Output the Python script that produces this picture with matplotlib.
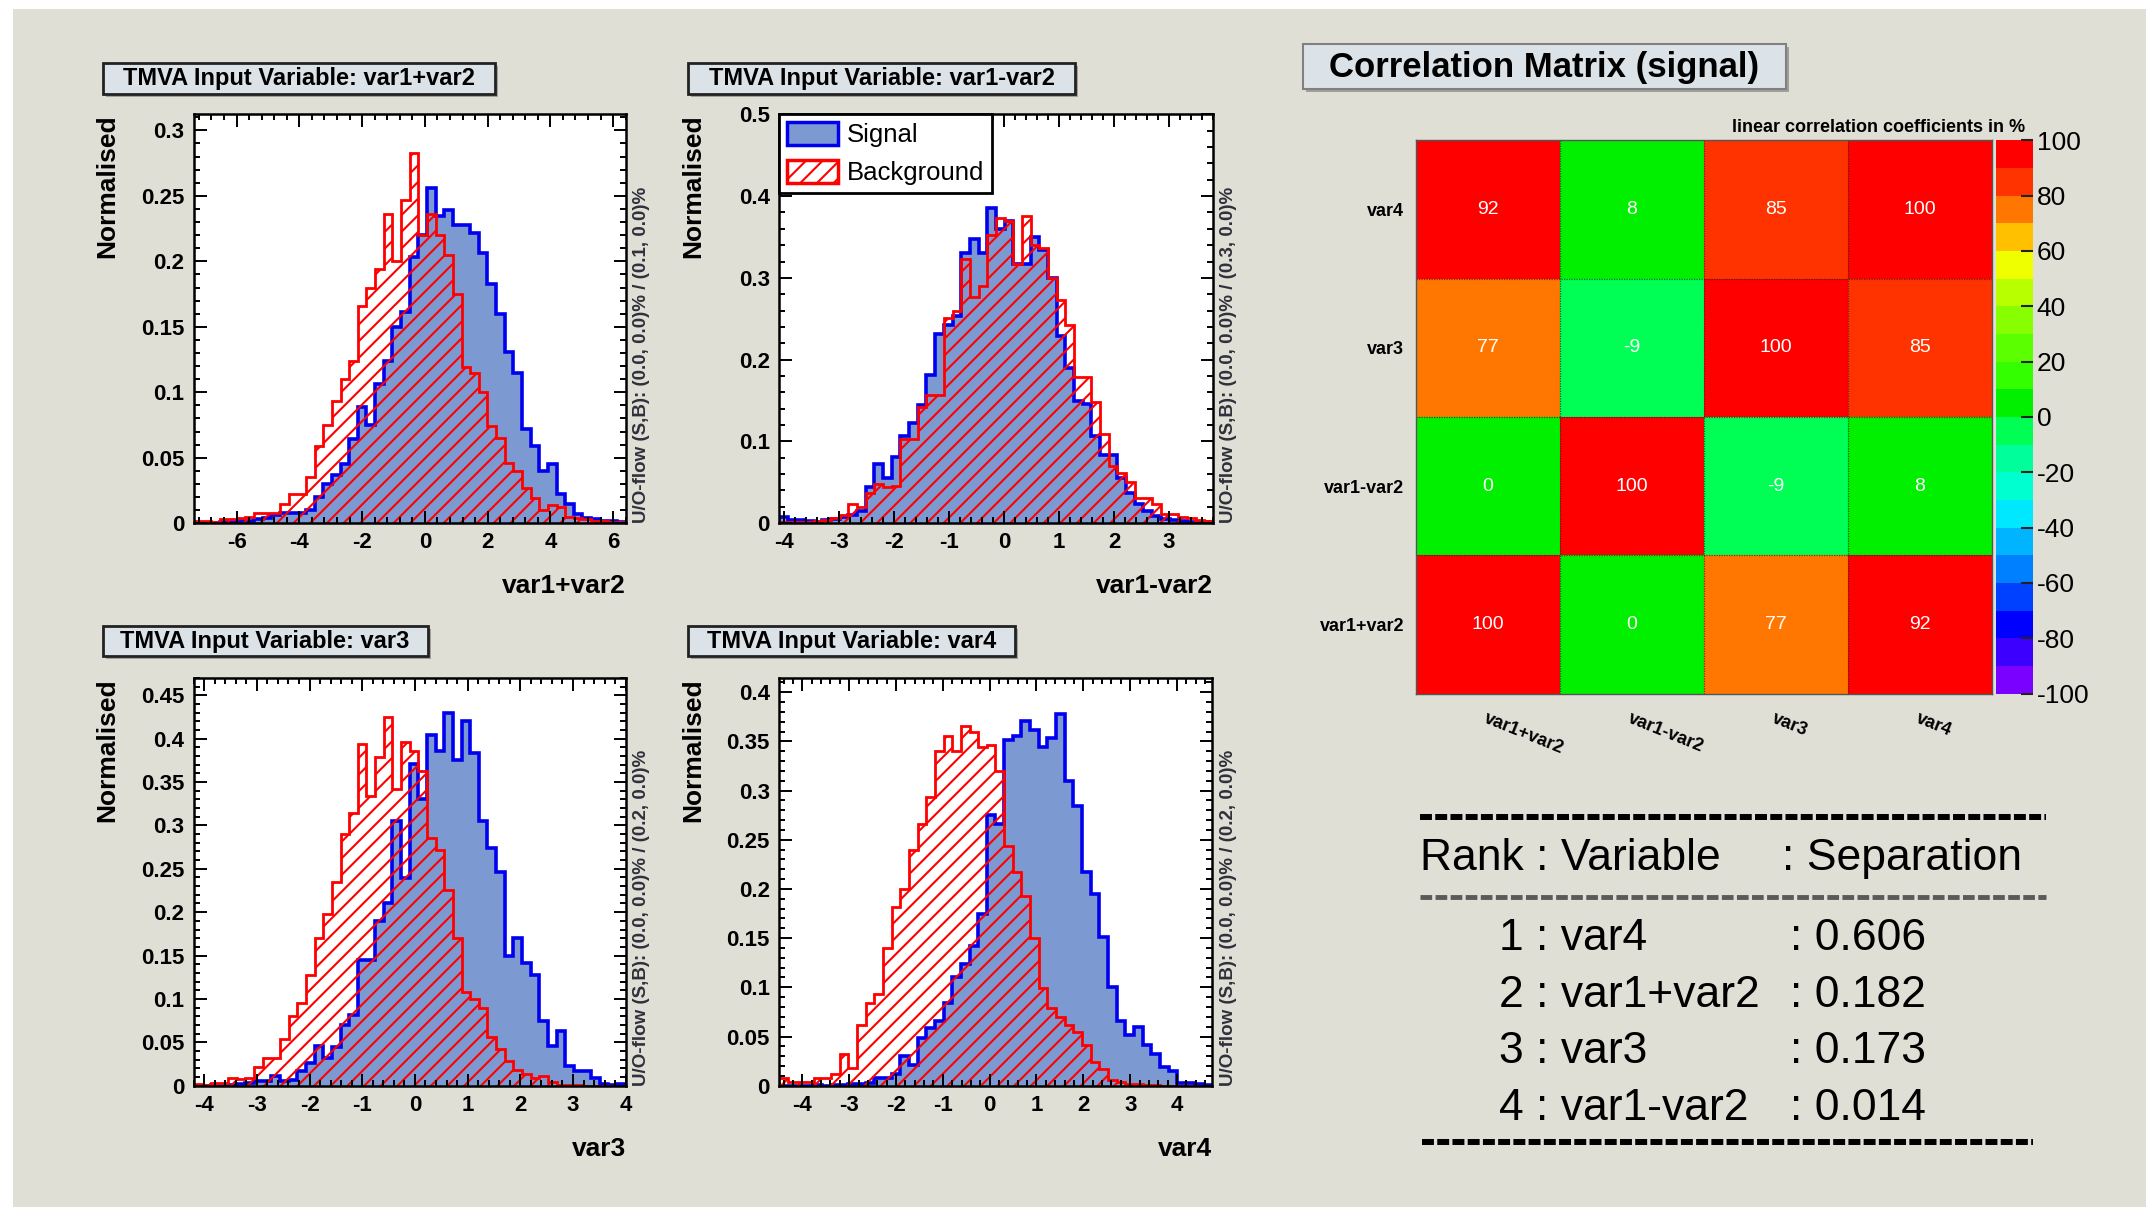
import numpy as np
import matplotlib
matplotlib.use("Agg")
import matplotlib.pyplot as plt
from matplotlib.patches import Rectangle, Patch
from matplotlib.colors import ListedColormap, BoundaryNorm
from matplotlib.cm import ScalarMappable
from matplotlib.ticker import MultipleLocator, FuncFormatter

plt.rcParams["font.family"] = ["Liberation Sans", "DejaVu Sans"]
plt.rcParams["font.weight"] = "bold"
plt.rcParams["axes.unicode_minus"] = False
plt.rcParams["hatch.linewidth"] = 1.5

W, H = 2146, 1207

# ---- histogram data (normalised, 50 bins over the plotted range) ----
sum_range = (-7.37, 6.4)
sig_sum = [0.0, 0.0, 0.0, 0.001, 0.001, 0.002, 0.002, 0.003, 0.004, 0.006,
           0.008, 0.008, 0.008, 0.010, 0.020, 0.030, 0.037, 0.045, 0.064, 0.089,
           0.075, 0.106, 0.124, 0.150, 0.161, 0.203, 0.220, 0.256, 0.235, 0.239,
           0.228, 0.228, 0.222, 0.206, 0.183, 0.160, 0.131, 0.115, 0.072, 0.059,
           0.040, 0.045, 0.022, 0.015, 0.007, 0.004, 0.003, 0.002, 0.002, 0.001]
bkg_sum = [0.002, 0.002, 0.001, 0.003, 0.003, 0.004, 0.005, 0.008, 0.008, 0.008,
           0.015, 0.022, 0.022, 0.035, 0.059, 0.075, 0.093, 0.110, 0.124, 0.166,
           0.180, 0.194, 0.236, 0.200, 0.247, 0.283, 0.220, 0.236, 0.220, 0.205,
           0.175, 0.119, 0.115, 0.100, 0.074, 0.065, 0.046, 0.040, 0.027, 0.019,
           0.010, 0.014, 0.012, 0.005, 0.004, 0.003, 0.002, 0.002, 0.001, 0.001]

diff_range = (-4.1, 3.8)
sig_diff = [0.008, 0.004, 0.004, 0.003, 0.002, 0.004, 0.005, 0.008, 0.010, 0.015,
            0.044, 0.072, 0.055, 0.081, 0.107, 0.122, 0.144, 0.181, 0.231, 0.242,
            0.253, 0.330, 0.347, 0.330, 0.386, 0.360, 0.369, 0.317, 0.317, 0.350,
            0.334, 0.300, 0.229, 0.190, 0.150, 0.146, 0.107, 0.083, 0.083, 0.055,
            0.037, 0.024, 0.015, 0.009, 0.005, 0.004, 0.003, 0.002, 0.002, 0.001]
bkg_diff = [0.002, 0.001, 0.002, 0.002, 0.003, 0.004, 0.006, 0.010, 0.024, 0.020,
            0.037, 0.048, 0.044, 0.046, 0.103, 0.103, 0.142, 0.157, 0.157, 0.251,
            0.260, 0.323, 0.277, 0.290, 0.352, 0.373, 0.370, 0.317, 0.376, 0.340,
            0.336, 0.300, 0.273, 0.242, 0.179, 0.179, 0.148, 0.109, 0.070, 0.061,
            0.050, 0.031, 0.031, 0.024, 0.011, 0.011, 0.008, 0.006, 0.004, 0.003]

var3_range = (-4.2, 4.0)
sig_var3 = [0.0, 0.0, 0.001, 0.0, 0.001, 0.002, 0.003, 0.005, 0.005, 0.011,
            0.005, 0.006, 0.017, 0.026, 0.046, 0.032, 0.045, 0.070, 0.081, 0.145,
            0.145, 0.190, 0.211, 0.305, 0.239, 0.371, 0.330, 0.404, 0.386, 0.429,
            0.375, 0.420, 0.384, 0.305, 0.274, 0.246, 0.149, 0.170, 0.141, 0.128,
            0.075, 0.046, 0.063, 0.023, 0.017, 0.017, 0.009, 0.002, 0.001, 0.002]
bkg_var3 = [0.002, 0.001, 0.003, 0.003, 0.009, 0.008, 0.009, 0.021, 0.032, 0.032,
            0.054, 0.080, 0.095, 0.128, 0.170, 0.198, 0.235, 0.290, 0.314, 0.394,
            0.334, 0.379, 0.425, 0.342, 0.396, 0.386, 0.363, 0.285, 0.272, 0.225,
            0.170, 0.108, 0.100, 0.089, 0.056, 0.042, 0.028, 0.018, 0.013, 0.009,
            0.011, 0.004, 0.001, 0.001, 0.001, 0.0, 0.0, 0.0, 0.0, 0.0]

var4_range = (-4.5, 4.75)
sig_var4 = [0.0, 0.0, 0.0, 0.0, 0.001, 0.0, 0.001, 0.001, 0.002, 0.002,
            0.003, 0.008, 0.008, 0.012, 0.030, 0.021, 0.048, 0.059, 0.066, 0.084,
            0.110, 0.124, 0.142, 0.175, 0.275, 0.266, 0.351, 0.355, 0.371, 0.362,
            0.344, 0.353, 0.378, 0.310, 0.284, 0.217, 0.195, 0.151, 0.100, 0.066,
            0.052, 0.060, 0.041, 0.032, 0.019, 0.015, 0.003, 0.003, 0.002, 0.001]
bkg_var4 = [0.008, 0.004, 0.004, 0.004, 0.008, 0.008, 0.012, 0.032, 0.018, 0.062,
            0.084, 0.093, 0.140, 0.182, 0.200, 0.240, 0.266, 0.293, 0.340, 0.355,
            0.340, 0.366, 0.360, 0.344, 0.346, 0.320, 0.244, 0.217, 0.193, 0.150,
            0.099, 0.079, 0.070, 0.062, 0.055, 0.041, 0.024, 0.017, 0.006, 0.004,
            0.002, 0.002, 0.001, 0.001, 0.0, 0.0, 0.0, 0.0, 0.0, 0.0]

# ---- correlation matrix (signal), rows bottom -> top ----
corr_vars = ["var1+var2", "var1-var2", "var3", "var4"]
corr_vals = [[100, 0, 77, 92],
             [0, 100, -9, 8],
             [77, -9, 100, 85],
             [92, 8, 85, 100]]
palette = ["#7a00ff", "#3c00ff", "#0000ff", "#0040ff", "#0080ff",
           "#00b4ff", "#00e8ff", "#00ffd0", "#00ff9a", "#00ff55",
           "#00f000", "#33ff00", "#5cff00", "#88ff00", "#b8ff00",
           "#f0ff00", "#ffc000", "#ff7700", "#ff3300", "#ff0000"]
cbar_ticks = [-100, -80, -60, -40, -20, 0, 20, 40, 60, 80, 100]

# ---- ranking table ----
ranks = ["1", "2", "3", "4"]
rank_vars = ["var4", "var1+var2", "var3", "var1-var2"]
separations = ["0.606", "0.182", "0.173", "0.014"]

SIG_FILL = "#7d99d1"
SIG_LINE = "#0000ee"
BKG_LINE = "#ff0000"


def frac(x0, y0, x1, y1):
    return [x0 / W, 1 - y1 / H, (x1 - x0) / W, (y1 - y0) / H]


fig = plt.figure(figsize=(W / 100, H / 100), dpi=100, facecolor="white")
bg = fig.add_axes([0, 0, 1, 1])
bg.set_xlim(0, W)
bg.set_ylim(H, 0)
bg.axis("off")
bg.add_patch(Rectangle((13, 9), W - 13, H - 9, facecolor="#dfdfd5", edgecolor="none"))


def title_box(x0, y0, x1, y1, text, size, edge="#222222", lw=2):
    bg.add_patch(Rectangle((x0 + 3, y0 + 3), x1 - x0, y1 - y0, facecolor="#a0a09a", edgecolor="none"))
    bg.add_patch(Rectangle((x0, y0), x1 - x0, y1 - y0, facecolor="#dce3e8", edgecolor=edge, lw=lw))
    bg.text((x0 + x1) / 2, y1 - 0.27 * (y1 - y0), text, ha="center", va="baseline",
            fontsize=size, fontweight="bold")


def hist_panel(box, xr, sig, bkg, ylim, xmaj, xmin, ymaj, ymin, xlabel, uoflow):
    ax = fig.add_axes(frac(*box))
    w_px = box[2] - box[0]
    h_px = box[3] - box[1]
    edges = np.linspace(xr[0], xr[1], len(sig) + 1)
    ax.stairs(sig, edges, fill=True, facecolor=SIG_FILL, edgecolor="none", lw=0)
    ax.stairs(sig, edges, fill=False, edgecolor=SIG_LINE, lw=2.6)
    ax.stairs(bkg, edges, fill=True, facecolor="none", edgecolor=BKG_LINE, hatch="//", lw=0)
    ax.stairs(bkg, edges, fill=False, edgecolor=BKG_LINE, lw=2.0)
    ax.set_xlim(xr)
    ax.set_ylim(ylim)
    ax.set_facecolor("white")
    ax.xaxis.set_major_locator(MultipleLocator(xmaj))
    ax.xaxis.set_minor_locator(MultipleLocator(xmin))
    ax.yaxis.set_major_locator(MultipleLocator(ymaj))
    ax.yaxis.set_minor_locator(MultipleLocator(ymin))
    fmt = FuncFormatter(lambda v, p: f"{v:g}")
    ax.xaxis.set_major_formatter(fmt)
    ax.yaxis.set_major_formatter(fmt)
    ax.tick_params(which="both", direction="in", top=True, right=True, width=1.4,
                   labelsize=16, pad=6.5)
    ax.tick_params(which="major", length=9)
    ax.tick_params(which="minor", length=4.5)
    for s in ax.spines.values():
        s.set_linewidth(1.8)
    ax.text(1.0, -70 / h_px, xlabel, transform=ax.transAxes, ha="right", va="baseline",
            fontsize=19)
    ax.text(-86 / w_px, 1.0, "Normalised", transform=ax.transAxes, ha="center", va="top",
            rotation=90, fontsize=19)
    ax.text(1 + 16 / w_px, 0.0, uoflow, transform=ax.transAxes, ha="center", va="bottom",
            rotation=90, fontsize=13.5, color="#30303c")
    return ax


title_box(102.5, 62.5, 495, 93.6, "TMVA Input Variable: var1+var2", 17)
title_box(687.9, 62.5, 1075.4, 93.6, "TMVA Input Variable: var1-var2", 17)
title_box(102.5, 626, 427.5, 656.4, "TMVA Input Variable: var3", 17)
title_box(687.9, 626, 1014.6, 656.4, "TMVA Input Variable: var4", 17)

hist_panel((193.6, 114.3, 625.7, 523.2), sum_range, sig_sum, bkg_sum, (0, 0.3123),
           2, 0.4, 0.05, 0.01, "var1+var2", "U/O-flow (S,B): (0.0, 0.0)% / (0.1, 0.0)%")
ax2 = hist_panel((778.9, 114.3, 1212.9, 523.2), diff_range, sig_diff, bkg_diff, (0, 0.5),
                 1, 0.2, 0.1, 0.02, "var1-var2", "U/O-flow (S,B): (0.0, 0.0)% / (0.3, 0.0)%")
hist_panel((193.6, 677.9, 625.7, 1085.7), var3_range, sig_var3, bkg_var3, (0, 0.47),
           1, 0.2, 0.05, 0.01, "var3", "U/O-flow (S,B): (0.0, 0.0)% / (0.2, 0.0)%")
hist_panel((778.9, 677.9, 1212.1, 1085.7), var4_range, sig_var4, bkg_var4, (0, 0.4145),
           1, 0.2, 0.05, 0.01, "var4", "U/O-flow (S,B): (0.0, 0.0)% / (0.2, 0.0)%")

handles = [Patch(facecolor=SIG_FILL, edgecolor=SIG_LINE, lw=2.5),
           Patch(facecolor="white", edgecolor=BKG_LINE, hatch="//", lw=2.5)]
leg = ax2.legend(handles, ["Signal", "Background"], loc="upper left", bbox_to_anchor=(0, 1),
                 borderaxespad=0, fancybox=False, framealpha=1, edgecolor="black",
                 prop={"size": 18.5, "weight": "normal"}, handlelength=2.0, handleheight=1.0,
                 borderpad=0.3, labelspacing=0.5, handletextpad=0.35)
leg.get_frame().set_linewidth(2)

# ---- correlation matrix ----
title_box(1303, 43.8, 1786, 88.8, "Correlation Matrix (signal)", 25, edge="#808080", lw=1.5)
cmap = ListedColormap(palette)
cmap.set_over(palette[-1])
norm = BoundaryNorm(np.arange(-100, 101, 10), cmap.N)

axm = fig.add_axes(frac(1415.5, 140.2, 1991.9, 693.5))
n = len(corr_vars)
axm.pcolormesh(np.arange(n + 1), np.arange(n + 1), np.array(corr_vals), cmap=cmap, norm=norm)
for k in range(1, n):
    axm.axhline(k, color="#222222", lw=0.9, ls=(0, (1, 1)), alpha=0.7)
    axm.axvline(k, color="#222222", lw=0.9, ls=(0, (1, 1)), alpha=0.7)
for i in range(n):
    for j in range(n):
        axm.text(j + 0.5, i + 0.5, str(corr_vals[i][j]), ha="center", va="center",
                 color="white", fontsize=14, fontweight="normal")
axm.set_xlim(0, n)
axm.set_ylim(0, n)
axm.set_xticks([])
axm.set_yticks(np.arange(n) + 0.5, corr_vars, fontsize=13)
axm.tick_params(axis="y", length=0, pad=8)
for j, name in enumerate(corr_vars):
    axm.text(j + 0.5, -0.12, name, ha="left", va="top", rotation=-22,
             rotation_mode="anchor", fontsize=13)
for s in axm.spines.values():
    s.set_color("#555555")
    s.set_linewidth(1)

cax = fig.add_axes(frac(1996, 140.2, 2032.7, 693.5))
cb = fig.colorbar(ScalarMappable(norm=norm, cmap=cmap), cax=cax)
cb.outline.set_visible(False)
cax.set_yticks(cbar_ticks, [f"{t}" for t in cbar_ticks], fontsize=19, fontweight="normal")
cax.tick_params(axis="y", direction="in", length=9, width=1.5, color="#222222", pad=3)
cax.minorticks_off()
bg.text(2025, 132, "linear correlation coefficients in %", ha="right", va="baseline",
        fontsize=13)

# ---- ranking table ----
bg.plot([1419.5, 2046], [816.7, 816.7], color="black", lw=4.3, dashes=(2.0, 0.55),
        dash_capstyle="butt")
bg.text(1419.5, 870, "Rank : Variable", fontsize=32, fontweight="normal", va="baseline")
bg.text(1781.6, 870, ": Separation", fontsize=32, fontweight="normal", va="baseline")
bg.plot([1419.5, 2046], [897.3, 897.3], color="#5a5a5a", lw=3.5, dashes=(2.4, 0.7),
        dash_capstyle="butt")
row_y = [950, 1006.7, 1063.3, 1120]
for r, v, s, y in zip(ranks, rank_vars, separations, row_y):
    bg.text(1499, y, f"{r} : {v}", fontsize=32, fontweight="normal", va="baseline")
    bg.text(1790, y, f": {s}", fontsize=32, fontweight="normal", va="baseline")
bg.plot([1421.7, 2033], [1141.7, 1141.7], color="black", lw=4.3, dashes=(2.0, 0.55),
        dash_capstyle="butt")

fig.savefig("out.png", dpi=100, facecolor=fig.get_facecolor())
